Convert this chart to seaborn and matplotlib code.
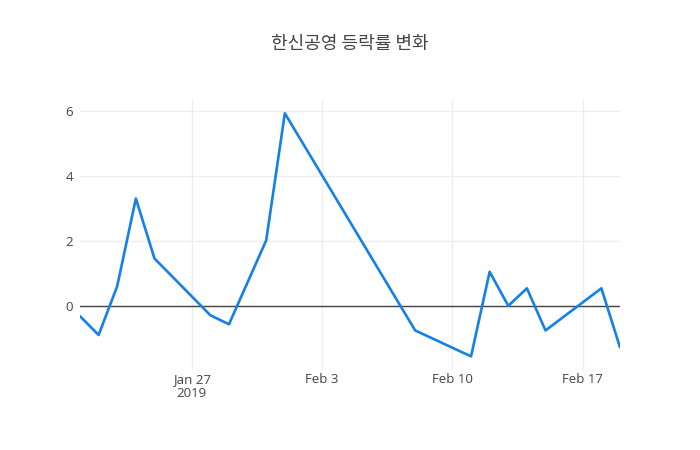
import matplotlib
matplotlib.use("Agg")
import matplotlib.pyplot as plt
import matplotlib.dates as mdates
import pandas as pd
import seaborn as sns

# daily change rate (%)
dates = [
    "2019-01-21", "2019-01-22", "2019-01-23", "2019-01-24", "2019-01-25",
    "2019-01-28", "2019-01-29", "2019-01-31", "2019-02-01", "2019-02-08",
    "2019-02-11", "2019-02-12", "2019-02-13", "2019-02-14", "2019-02-15",
    "2019-02-18", "2019-02-19",
]
rates = [
    -0.32, -0.90, 0.61, 3.31, 1.46,
    -0.29, -0.57, 2.02, 5.94, -0.76,
    -1.56, 1.05, 0.0, 0.54, -0.76,
    0.54, -1.28,
]
tick_dates = ["2019-01-27", "2019-02-03", "2019-02-10", "2019-02-17"]
tick_labels = ["Jan 27\n2019", "Feb 3", "Feb 10", "Feb 17"]
title = "한신공영 등락률 변화"

df = pd.DataFrame({"date": pd.to_datetime(dates), "rate": rates})

sns.set_style("white")
plt.rcParams["font.family"] = ["Open Sans", "Noto Sans CJK KR", "DejaVu Sans"]

fig = plt.figure(figsize=(7, 4.5), dpi=100)
ax = fig.add_axes([80 / 700, 80 / 450, 540 / 700, 270 / 450])

ax.axhline(0, color="#444444", lw=1, zorder=2)
sns.lineplot(data=df, x="date", y="rate", ax=ax, color="#1580e6", lw=1.9, zorder=3)

ax.set_xlim(df["date"].min(), df["date"].max())
ax.set_ylim(-1.98, 6.35)
ax.set_yticks([0, 2, 4, 6])
ax.set_xticks(mdates.date2num(pd.to_datetime(tick_dates)))
ax.set_xticklabels(tick_labels, linespacing=1.1)
ax.grid(True, color="#eeeeee", lw=1, zorder=0)
ax.tick_params(axis="both", length=0, labelsize=9.5, labelcolor="#444444")
ax.tick_params(axis="x", pad=2)
ax.tick_params(axis="y", pad=5)
for s in ax.spines.values():
    s.set_visible(False)
ax.set_xlabel("")
ax.set_ylabel("")

fig.text(0.5, 1 - 44 / 450, title, ha="center", va="center", fontsize=13,
         color="#444444", family=["Noto Sans CJK KR", "DejaVu Sans"])

fig.savefig("out.png", dpi=100, facecolor="white")
